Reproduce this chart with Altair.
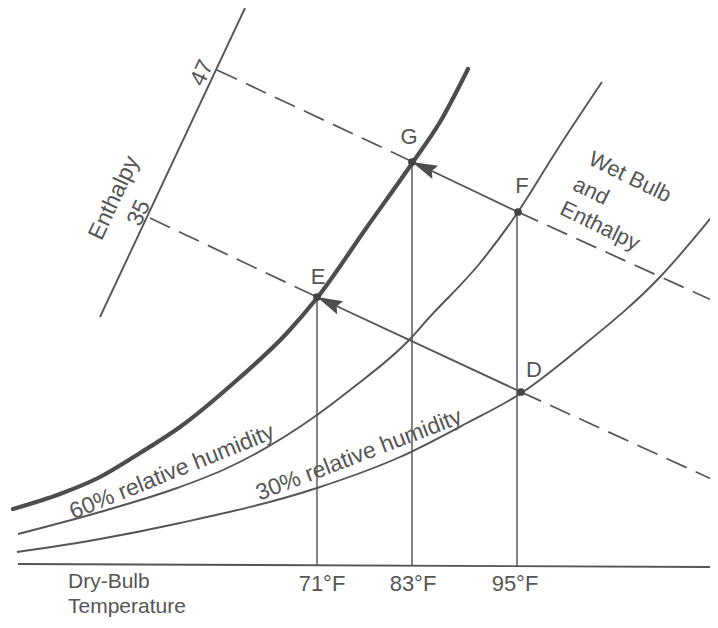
import altair as alt
import pandas as pd

# ---- data (chart units: x to the right, y downward) ----
sat_x = [13, 60, 100, 140, 180, 237, 287, 317, 367, 413, 440, 468]
sat_y = [509, 494, 477, 453, 427, 380, 333, 298, 227, 162, 122, 69]

rh60_x = [18, 100, 177, 223, 317, 350, 411, 427, 480, 518, 557, 602]
rh60_y = [534, 512, 488, 470, 415, 390, 338, 320, 263, 212, 150, 82]

rh30_x = [17, 100, 180, 317, 400, 467, 523, 580, 660, 715]
rh30_y = [552, 539, 523, 488, 457, 423, 392, 348, 277, 213]

base_x = [18, 718]
base_y = [564, 567]

enth_axis_x = [100, 245]
enth_axis_y = [317, 8]

# enthalpy / wet-bulb lines (dashed parts)
dash_x = [[217, 413], [518, 718], [150, 317], [521, 718]]
dash_y = [[70, 162], [212, 303], [218, 297], [392, 482]]
# process lines (solid, arrow at the left end)
proc_x = [[518, 413], [521, 317]]
proc_y = [[212, 162], [392, 297]]

# dry-bulb verticals
vert_x = [317, 412, 517]
vert_top = [298, 162, 212]
vert_bot = [565, 566, 567]

pt_names = ["E", "G", "F", "D"]
pt_x = [317, 412, 518, 521]
pt_y = [297, 162, 212, 392]

arrow_x = [317, 412]
arrow_y = [297, 162]
arrow_angle = [25, 24]

lab_text = ["E", "G", "F", "D", "71°F", "83°F", "95°F"]
lab_x = [318, 409, 522, 534, 322, 413, 515]
lab_y = [277, 137, 186, 370, 584, 584, 584]

left_text = ["Dry-Bulb", "Temperature"]
left_x = [68, 68]
left_y = [582, 607]

rot_text = ["Enthalpy", "47", "35", "60% relative humidity", "30% relative humidity"]
rot_x = [114, 202, 139, 172, 359]
rot_y = [198, 73, 213, 472, 455]
rot_angle = [295, 295, 295, 338, 339]

wb_text = ["Wet Bulb", "and", "Enthalpy"]
wb_x = [630, 591, 600]
wb_y = [177, 191, 226]
wb_angle = [26, 26, 26]

# ---- build tables ----
def path_df(xs, ys, pid):
    return pd.DataFrame({"x": xs, "y": ys, "id": pid, "i": range(len(xs))})

curves = pd.concat([path_df(rh60_x, rh60_y, "rh60"), path_df(rh30_x, rh30_y, "rh30")])
sat = path_df(sat_x, sat_y, "sat")
straight = pd.concat([path_df(base_x, base_y, "base"), path_df(enth_axis_x, enth_axis_y, "enth")] +
                     [path_df(px, py, f"p{k}") for k, (px, py) in enumerate(zip(proc_x, proc_y))])
dashed = pd.concat([path_df(dx, dy, f"d{k}") for k, (dx, dy) in enumerate(zip(dash_x, dash_y))])
verts = pd.DataFrame({"x": vert_x, "y": vert_top, "y2": vert_bot})
pts = pd.DataFrame({"name": pt_names, "x": pt_x, "y": pt_y})
arrows = pd.DataFrame({"x": arrow_x, "y": arrow_y, "a": arrow_angle})
labs = pd.DataFrame({"t": lab_text, "x": lab_x, "y": lab_y})
lefts = pd.DataFrame({"t": left_text, "x": left_x, "y": left_y})
rots = pd.DataFrame({"t": rot_text, "x": rot_x, "y": rot_y, "a": rot_angle})
wbs = pd.DataFrame({"t": wb_text, "x": wb_x, "y": wb_y, "a": wb_angle})

INK = "#555555"
FONT = "Liberation Sans"
xs = alt.Scale(domain=[8, 710], nice=False, zero=False)
ys = alt.Scale(domain=[8, 620], reverse=True, nice=False, zero=False)
X = alt.X("x:Q", scale=xs, axis=None)
Y = alt.Y("y:Q", scale=ys, axis=None)

l_sat = alt.Chart(sat).mark_line(color="#4d4d4d", strokeWidth=4.2, interpolate="monotone",
                                 strokeCap="round").encode(X, Y, order="i:Q")
l_curves = alt.Chart(curves).mark_line(color=INK, strokeWidth=1.9, interpolate="monotone").encode(
    X, Y, detail="id:N", order="i:Q")
l_straight = alt.Chart(straight).mark_line(color=INK, strokeWidth=1.9).encode(
    X, Y, detail="id:N", order="i:Q")
l_dashed = alt.Chart(dashed).mark_line(color=INK, strokeWidth=1.7, strokeDash=[22, 10]).encode(
    X, Y, detail="id:N", order="i:Q")
l_vert = alt.Chart(verts).mark_rule(color="#6e6e6e", strokeWidth=1.7).encode(
    X, Y, y2="y2:Q")
dots = alt.Chart(pts).mark_circle(color="#444444", size=60, opacity=1).encode(X, Y)
heads = alt.Chart(arrows).mark_point(shape="M0,0L1,-0.28L0.85,0L1,0.28Z", filled=True,
                                     size=2600, color="#4d4d4d", opacity=1, strokeWidth=0).encode(
    X, Y, angle=alt.Angle("a:Q", scale=None))
t_labs = alt.Chart(labs).mark_text(font=FONT, fontSize=22, color=INK, align="center",
                                   baseline="middle").encode(X, Y, text="t:N")
t_left = alt.Chart(lefts).mark_text(font=FONT, fontSize=21, color=INK, align="left",
                                    baseline="middle").encode(X, Y, text="t:N")
t_rot = alt.Chart(rots).mark_text(font=FONT, fontSize=23, color=INK, align="center",
                                  baseline="middle").encode(X, Y, text="t:N",
                                                            angle=alt.Angle("a:Q", scale=None))
t_wb = alt.Chart(wbs).mark_text(font=FONT, fontSize=22, color=INK, align="center",
                                baseline="middle").encode(X, Y, text="t:N",
                                                          angle=alt.Angle("a:Q", scale=None))

chart = alt.layer(l_vert, l_curves, l_straight, l_dashed, l_sat, heads, dots,
                  t_labs, t_left, t_rot, t_wb).properties(
    width=702, height=612, padding=0, autosize="none", background="white"
).configure_view(stroke=None)

chart.save("out.html", embed_options={"renderer": "svg", "actions": False})
